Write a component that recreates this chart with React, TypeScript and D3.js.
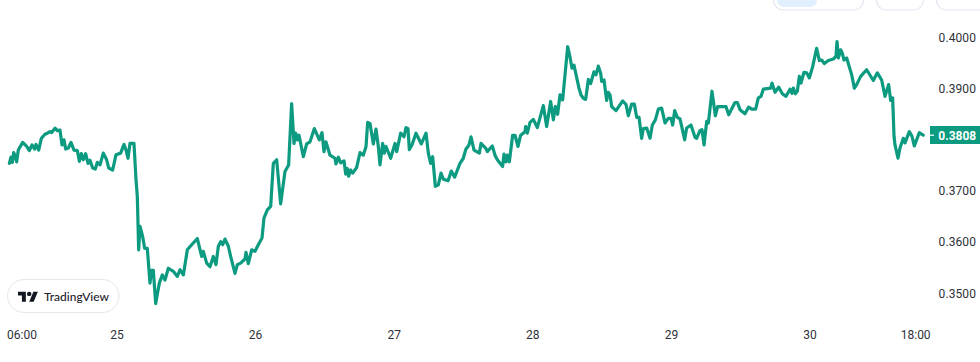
import React from "react";
import * as d3 from "d3";

// hours since the start of day 25
const hours = [-18.64,-18.36,-18.12,-17.89,-17.6,-17.37,-17.09,-16.33,-15.64,-15.18,-14.72,-14.26,-14.03,-13.56,-13.1,-12.47,-12.06,-11.6,-11.31,-10.74,-10.33,-9.87,-9.52,-9.18,-8.89,-8.43,-7.97,-7.45,-6.87,-6.52,-6.18,-5.83,-5.43,-5.02,-4.68,-4.21,-3.75,-3.41,-2.94,-2.37,-1.79,-1.44,-0.75,-0.17,0.63,1.21,1.56,1.9,2.25,2.94,3.29,3.52,3.75,3.98,4.44,4.79,5.25,5.71,6,6.29,6.7,7.33,7.85,8.31,8.89,9.75,10.45,10.91,11.49,12.18,12.93,13.91,14.66,14.95,15.53,16.1,16.68,17.14,17.55,17.95,18.3,18.7,19.28,19.68,20.43,20.84,21.41,22.16,22.34,22.74,23.32,23.9,24.47,25.11,25.45,26.03,26.61,27.07,27.65,28.34,29.09,29.72,30.24,
30.65,30.94,31.23,31.52,32.27,32.84,33.42,34.17,35.04,35.5,35.84,36.19,36.88,37.75,37.92,38.33,38.73,39.31,39.6,39.88,40.11,40.46,40.81,41.5,42.08,42.65,43.12,43.41,43.81,44.39,44.85,45.25,45.54,46,46.29,46.58,47.39,48.14,48.43,49.12,49.7,50.04,50.39,50.62,51.08,51.77,52.7,53.51,53.91,54.31,54.66,55.12,55.64,56.1,56.51,57.33,57.89,58.47,59.39,59.97,60.38,60.95,61.3,61.82,62.74,63.03,63.9,64.13,64.59,64.99,65.45,65.86,66.78,67.01,67.36,67.59,67.94,68.51,68.92,69.44,69.9,70.65,70.76,71.05,71.52,72.09,72.78,73.82,74.4,75.09,75.56,75.9,76.3,76.71,77.17,78.04,78.44,78.79,79.13,80,80.35,80.75,81.15,81.62,82.02,82.6,82.94,83.35,
83.75,83.93,84.33,84.79,85.08,85.37,85.66,86.41,87.56,88.14,88.54,89.12,89.58,89.99,90.39,90.85,91.14,91.72,92.3,92.7,93.22,93.74,94.31,94.89,95.47,95.93,96.22,96.57,97.03,97.49,98.3,98.64,99.39,100.09,100.37,100.95,101.3,101.65,102.11,102.4,103.03,103.61,104.01,105.45,105.92,107.01,107.42,107.88,108.74,109.38,109.9,110.59,111.05,111.52,111.92,113.19,113.42,113.94,114.57,115.21,115.84,116.54,116.88,117.11,117.46,117.81,118.15,118.44,118.96,119.42,119.88,120.46,121.15,121.62,122.02,122.48,123.17,124.04,124.5,124.68,124.91,125.31,125.6,125.89,126.35,127.22,127.68,128.08,128.77,129.81,130.97,131.66,132.41,132.99,133.62,133.97,134.31,134.55,134.72,135.24,135.58,136.16,136.45,137.2,137.66,138.06,138.93,139.62];

const prices = [.3753,.3765,.3755,.3774,.3766,.3756,.3779,.3794,.3786,.3778,.3789,.3781,.379,.3779,.3802,.381,.3812,.3815,.3813,.3822,.3817,.3818,.3789,.3799,.3781,.3783,.3794,.3779,.3778,.3757,.3772,.376,.3772,.3753,.3759,.3744,.3742,.3755,.375,.3773,.376,.3744,.374,.377,.3773,.379,.3779,.3763,.3792,.3792,.3721,.3688,.3584,.363,.361,.3587,.3587,.3519,.3544,.3544,.3479,.3519,.3535,.3525,.3548,.3542,.3532,.3545,.3535,.3584,.3594,.3606,.3571,.3581,.3558,.3551,.3571,.3555,.3591,.36,.3594,.3605,.3591,.3571,.3538,.3555,.3558,.3566,.3579,.3557,.3584,.3581,.3594,.3607,.3646,.3662,.3669,.3753,.376,.3674,.3737,.375,.387,
.3792,.3812,.3799,.3808,.3766,.3791,.3795,.3821,.3799,.3813,.3776,.3795,.3769,.3763,.3752,.3765,.3754,.3758,.3732,.3743,.3728,.374,.3734,.3745,.3774,.3769,.3786,.3833,.3831,.3791,.382,.3786,.375,.3792,.3773,.3786,.3763,.3792,.3776,.3812,.3805,.3823,.3821,.378,.3789,.3812,.3791,.3812,.3773,.3753,.3766,.3708,.3711,.3734,.3722,.3719,.3738,.3726,.3753,.3763,.378,.3789,.3805,.3779,.3773,.3792,.3782,.3776,.3782,.3787,.3769,.376,.3747,.3771,.3756,.3769,.3756,.3808,.3808,.3786,.3808,.3815,.3825,.3812,.3833,.3839,.3823,.3866,.3825,.3874,.3838,.3864,.3849,.3887,.3877,.3981,.3961,.3939,.3945,.39,.3887,.388,.3878,.3917,.3909,.3932,.3926,.3943,
.3929,.3913,.3916,.3876,.3892,.3887,.3864,.3856,.3875,.3868,.3846,.3869,.3869,.3843,.3843,.3802,.3821,.3822,.3802,.3828,.3838,.3859,.3861,.3832,.3841,.3841,.3828,.3856,.3843,.384,.3799,.3822,.3828,.3804,.3802,.3817,.3819,.3789,.3835,.3832,.3894,.3846,.3864,.3864,.3848,.3872,.3872,.3858,.385,.3863,.3859,.3859,.3881,.3884,.3898,.39,.391,.3892,.3902,.3889,.3884,.3898,.389,.39,.3889,.3894,.3923,.391,.3931,.393,.392,.3942,.3978,.3954,.3955,.3948,.3954,.3957,.3962,.3991,.3959,.3975,.3968,.3955,.3959,.3926,.39,.3907,.3923,.3936,.3915,.393,.3916,.3884,.3907,.3876,.3881,.3806,.3789,.3763,.3783,.3802,.3793,.3815,.3806,.3787,.3813,.3808];

const timeTickHours = [-18, 0, 24, 48, 72, 96, 120, 138.3];
const timeTickLabels = ["06:00", "25", "26", "27", "28", "29", "30", "18:00"];
const priceTicks = [0.35, 0.36, 0.37, 0.39, 0.4];
const lastPrice = 0.3808;

const LINE = "#0c9b80";
const INK = "#2e3238";
const SANS = "Roboto, 'Liberation Sans', sans-serif";

export default function App() {
  const x = d3.scaleLinear().domain([0, 120]).range([117, 810]);
  const y = d3.scaleLinear().domain([0.35, 0.4]).range([292.8, 37]);
  const line = d3
    .line<number>()
    .x((_, i) => x(hours[i]))
    .y((d) => y(d))
    .curve(d3.curveLinear);

  return (
    <svg
      width={980}
      height={362}
      viewBox="0 0 980 362"
      style={{ position: "absolute", left: 0, top: 0, background: "#fff", display: "block" }}
    >
      <g fill="#fff" stroke="#e4e5ef" strokeWidth={1.2}>
        <rect x={773.5} y={-20} width={90} height={30} rx={10} />
        <rect x={876.5} y={-20} width={47} height={30} rx={10} />
        <rect x={936.5} y={-20} width={70} height={30} rx={10} />
      </g>
      <rect x={777} y={-20} width={40} height={27} rx={7} fill="#e1effe" />

      <path
        d={line(prices) ?? ""}
        fill="none"
        stroke={LINE}
        strokeWidth={3.2}
        strokeLinejoin="round"
        strokeLinecap="round"
      />

      {priceTicks.map((t) => (
        <text key={t} x={957.3} y={y(t) + 4.8} textAnchor="middle" fontFamily={SANS} fontSize={12} fill={INK} letterSpacing={0.1}>
          {t.toFixed(4)}
        </text>
      ))}
      <rect x={930} y={126} width={50} height={18} fill={LINE} />
      <rect x={930} y={y(lastPrice) - 0.6} width={4} height={1.2} fill="#fff" />
      <text x={957.3} y={139.5} textAnchor="middle" fontFamily={SANS} fontSize={12} fontWeight={700} fill="#fff">
        {lastPrice.toFixed(4)}
      </text>

      {timeTickHours.map((h, i) => (
        <text
          key={h}
          x={Math.max(x(h), 22)}
          y={339}
          textAnchor="middle"
          fontFamily={SANS}
          fontSize={12}
          fill={INK}
        >
          {timeTickLabels[i]}
        </text>
      ))}

      <rect x={7.5} y={279.5} width={111.5} height={33} rx={16.5} fill="#fff" stroke="#e6e7ea" />
      <g transform="translate(18,289.4) scale(0.56)" fill="#131722">
        <path d="M14 22H7V11H0V4h14v18zM28 22h-8l7.5-18h8L28 22z" />
        <circle cx={20} cy={8} r={4} />
      </g>
      <text x={44} y={300.5} fontFamily="Lato, sans-serif" fontWeight={500} fontSize={12} fill="#1e222d" textLength={65} lengthAdjust="spacingAndGlyphs">
        TradingView
      </text>
    </svg>
  );
}
